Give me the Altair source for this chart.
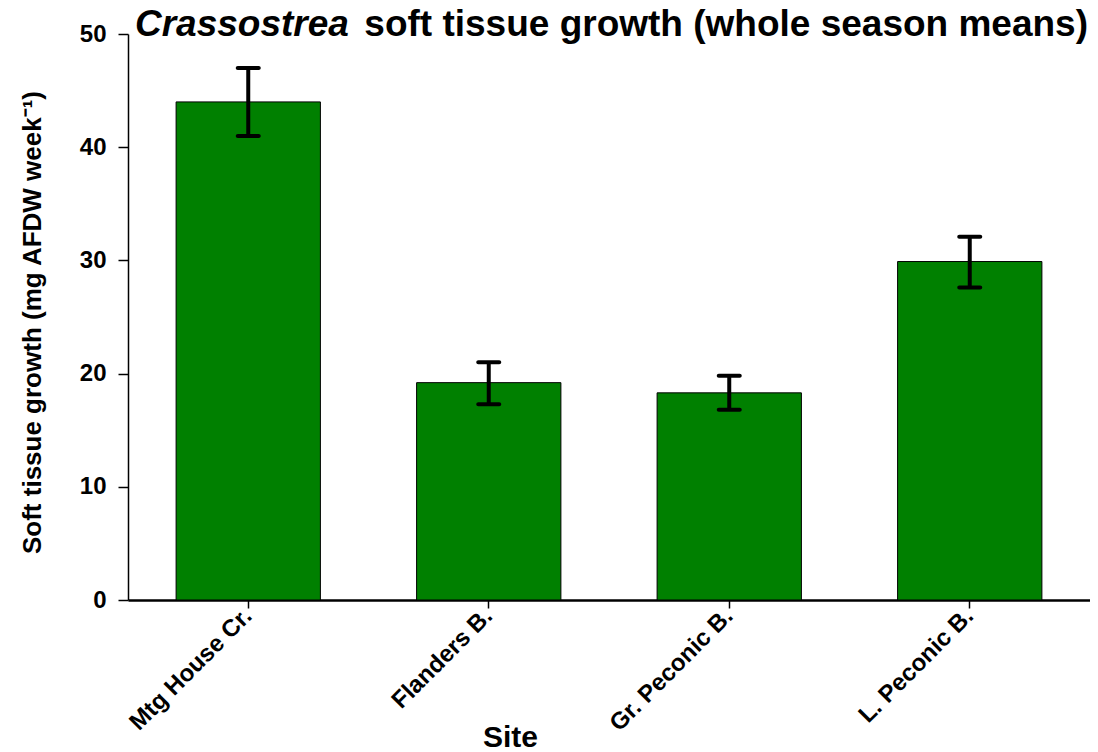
import altair as alt
import pandas as pd

sites = ["Mtg House Cr.", "Flanders B.", "Gr. Peconic B.", "L. Peconic B."]
means = [44.0, 19.2, 18.3, 29.9]
err_low = [41.0, 17.3, 16.8, 27.6]
err_high = [47.0, 21.0, 19.8, 32.1]

title_italic = "Crassostrea"
title_rest = "soft tissue growth (whole season means)"
y_title = "Soft tissue growth (mg AFDW week\u207b\u00b9)"
x_title = "Site"

df = pd.DataFrame({"site": sites, "mean": means, "low": err_low, "high": err_high})
tdf = pd.DataFrame({"a": [title_italic], "b": [title_rest]})

FONT = "Liberation Sans"

x_enc = alt.X(
    "site:N",
    sort=sites,
    scale=alt.Scale(paddingInner=0.4, paddingOuter=0.2),
    axis=alt.Axis(
        title=x_title,
        labelAngle=-45,
        labelAlign="right",
        labelBaseline="middle",
        labelFont=FONT,
        labelFontWeight="bold",
        labelFontSize=24,
        labelColor="black",
        labelPadding=4,
        tickSize=8,
        tickWidth=1.5,
        tickColor="black",
        domainColor="black",
        domainWidth=2.5,
        titleFont=FONT,
        titleFontWeight="bold",
        titleFontSize=30,
        titleColor="black",
        titleX=382,
        titleY=146,
        titleAlign="center",
        titleBaseline="alphabetic",
    ),
)

y_scale = alt.Scale(domain=[0, 50], nice=False, zero=True)
y_axis = alt.Axis(
    title=y_title,
    values=[0, 10, 20, 30, 40, 50],
    grid=False,
    labelFont=FONT,
    labelFontWeight="bold",
    labelFontSize=24,
    labelColor="black",
    labelPadding=12,
    tickSize=10,
    tickWidth=1.5,
    tickColor="black",
    domainColor="black",
    domainWidth=1.5,
    titleFont=FONT,
    titleFontWeight="bold",
    titleFontSize=26,
    titleColor="black",
    titleAngle=-90,
    titleX=-96,
    titleY=288,
    titleAlign="center",
    titleBaseline="middle",
)

bars = alt.Chart(df).mark_bar(color="#008000", stroke="black", strokeWidth=1).encode(
    x=x_enc,
    y=alt.Y("mean:Q", scale=y_scale, axis=y_axis),
)

rule = alt.Chart(df).mark_rule(color="black", strokeWidth=4).encode(
    x=alt.X("site:N", sort=sites),
    y=alt.Y("low:Q"),
    y2="high:Q",
)

cap_lo = alt.Chart(df).mark_tick(color="black", opacity=1, size=25, thickness=4, cornerRadius=2).encode(
    x=alt.X("site:N", sort=sites),
    y=alt.Y("low:Q"),
)
cap_hi = alt.Chart(df).mark_tick(color="black", opacity=1, size=25, thickness=4, cornerRadius=2).encode(
    x=alt.X("site:N", sort=sites),
    y=alt.Y("high:Q"),
)

t1 = alt.Chart(tdf).mark_text(
    font=FONT, fontSize=37, fontWeight="bold", fontStyle="italic",
    align="left", baseline="alphabetic", color="black",
).encode(text="a:N", x=alt.value(7), y=alt.value(2))

t2 = alt.Chart(tdf).mark_text(
    font=FONT, fontSize=37, fontWeight="bold",
    align="right", baseline="alphabetic", color="black",
).encode(text="b:N", x=alt.value(960), y=alt.value(2))

chart = alt.layer(bars, rule, cap_lo, cap_hi, t1, t2).properties(
    width=962,
    height=566,
    autosize=alt.AutoSizeParams(type="none"),
    padding={"left": 120, "top": 26, "right": 0, "bottom": 152},
    background="white",
).configure_view(stroke=None)

chart.save("out.html", embed_options={"renderer": "svg", "actions": False})
